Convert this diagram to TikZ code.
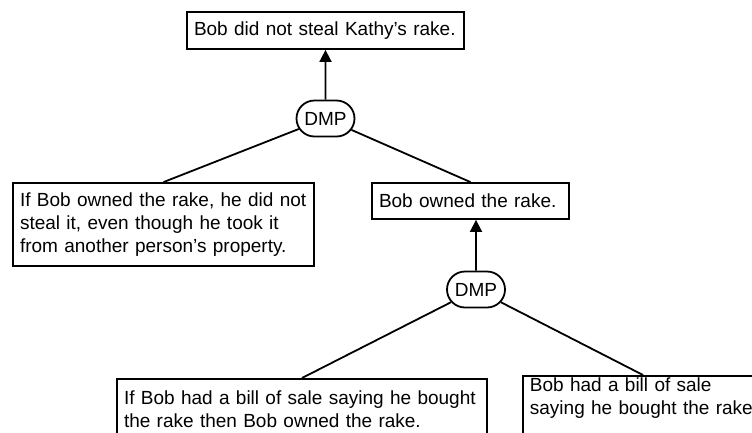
\documentclass[tikz,border=0pt]{standalone}
\usepackage{fontspec}
\setmainfont{Liberation Sans}
\usetikzlibrary{shapes.misc,arrows.meta}

\begin{document}
\begin{tikzpicture}[x=1pt,y=-1pt,
            font=\fontsize{19}{23}\selectfont,
            >={Triangle[width=12pt,length=12pt]},
            line width=1.8pt,
            claim/.style={draw,rectangle,inner xsep=7pt,inner ysep=0pt,align=left},
            dmp/.style={draw,rounded rectangle,minimum width=58pt,minimum height=36pt,inner sep=0pt},
        ]
        \useasboundingbox (0,0) rectangle (752,432);
        \clip (0,0) rectangle (752,432);
        % conclusion and first step
        \node[claim,text width=263pt,minimum height=37pt] (goal) at (325.5,30.5) {Bob did not steal Kathy's rake.};
        \node[dmp] (dmpA) at (325.5,118.5) {DMP};
        \node[claim,text width=287pt,minimum height=83pt] (premA) at (163.5,224.5)
            {If Bob owned the rake, he did not\\ steal it, even though he took it\\ from another person's property.};
        \node[claim,text width=183pt,minimum height=36pt] (premB) at (470.5,201) {Bob owned the rake.};
        % second step
        \node[dmp] (dmpB) at (476,289.5) {DMP};
        \node[claim,text width=356pt,minimum height=60pt,anchor=north] (premC) at (302,378)
            {If Bob had a bill of sale saying he bought\\ the rake then Bob owned the rake.};
        \node[claim,text width=250pt,inner ysep=2pt,anchor=north west] (premD) at (522,375)
            {Bob had a bill of sale\\ saying he bought the rake.\\ \strut};
        \draw[->] (dmpA) -- (goal);
        \draw (dmpA) -- (premA.north);
        \draw (dmpA) -- (premB.north);
        \draw[->] (dmpB) -- (dmpB |- premB.south);
        \draw (dmpB) -- (premC.north);
        \draw (dmpB) -- ([xshift=121pt]premD.north west);
    \end{tikzpicture}
\end{document}
